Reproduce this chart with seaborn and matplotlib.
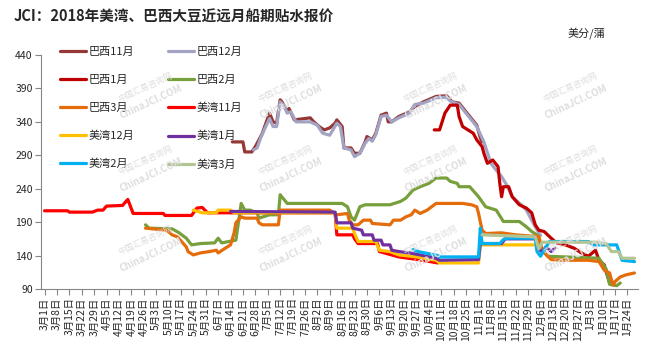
import pandas as pd
import matplotlib.pyplot as plt
import seaborn as sns

sns.set_style("ticks")
plt.rcParams['font.family'] = ['Noto Sans CJK SC', 'DejaVu Sans']
plt.rcParams['lines.solid_joinstyle'] = 'round'

# ---- data (month-day, cents/bushel) ----
bx11_d = ["06-15", "06-21", "06-22", "06-26", "06-28", "06-30", "07-02", "07-03", "07-06", "07-08",
          "07-10", "07-12", "07-13", "07-16", "07-17", "07-20", "07-23", "07-29", "07-31", "08-04",
          "08-06", "08-09", "08-12", "08-13", "08-16", "08-17", "08-21", "08-23", "08-26", "08-29",
          "08-30", "09-02", "09-04", "09-07", "09-10", "09-11", "09-13", "09-17", "09-23", "09-26",
          "10-01", "10-08", "10-14", "10-16", "10-17", "10-21", "10-24", "10-31", "11-02", "11-03"]
bx11_v = [310, 310, 295, 295, 303, 313, 323, 331, 353, 340,
          338, 373, 370, 355, 360, 343, 344, 346, 340, 331,
          328, 331, 338, 343, 333, 301, 301, 293, 293, 310,
          318, 313, 323, 350, 353, 340, 340, 348, 355, 363,
          370, 378, 379, 373, 370, 368, 358, 335, 316, 310]

bx12_d = ["06-27", "06-29", "07-01", "07-03", "07-06", "07-08", "07-10", "07-12", "07-14", "07-16",
          "07-18", "07-21", "07-29", "08-02", "08-05", "08-09", "08-13", "08-15", "08-17", "08-21",
          "08-23", "08-26", "08-29", "08-31", "09-02", "09-04", "09-07", "09-10", "09-13", "09-17",
          "09-23", "09-26", "10-01", "10-08", "10-14", "10-16", "10-21", "10-24", "10-31", "11-04",
          "11-08", "11-10", "11-14", "11-17", "11-20", "11-25", "11-28", "12-03", "12-06"]
bx12_v = [298, 301, 316, 328, 345, 333, 333, 370, 365, 353,
          355, 340, 340, 335, 323, 320, 338, 333, 301, 298,
          288, 293, 308, 315, 311, 321, 348, 350, 340, 346,
          353, 366, 368, 376, 377, 371, 366, 356, 333, 310,
          278, 271, 258, 245, 228, 216, 208, 183, 170]

bx1_d = ["10-07", "10-10", "10-13", "10-16", "10-20", "10-21", "10-23", "10-29", "10-31", "11-03",
         "11-04", "11-06", "11-09", "11-12", "11-13", "11-14", "11-15", "11-18", "11-20", "11-24",
         "11-28", "12-01", "12-03", "12-05", "12-08", "12-12", "12-15", "12-20", "12-25", "12-29",
         "01-02", "01-06", "01-08", "01-11", "01-12", "01-14"]
bx1_v = [328, 328, 353, 365, 365, 348, 333, 323, 313, 303,
         293, 278, 283, 273, 248, 228, 243, 243, 228, 216,
         211, 204, 186, 178, 176, 166, 159, 156, 151, 144,
         139, 148, 133, 126, 116, 99]

bx2_d = ["04-27", "04-29", "05-12", "05-16", "05-20", "05-23", "05-28", "06-05", "06-07", "06-09",
         "06-13", "06-17", "06-20", "06-22", "06-25", "06-29", "06-30", "07-06", "07-11", "07-12",
         "07-16", "08-16", "08-19", "08-21", "08-23", "08-26", "08-29", "09-12", "09-18", "09-21",
         "09-25", "09-29", "10-04", "10-08", "10-14", "10-16", "10-20", "10-21", "10-27", "11-01",
         "11-05", "11-11", "11-15", "11-24", "11-28", "12-01", "12-04", "12-05", "12-07", "12-10",
         "01-08", "01-12", "01-14", "01-18", "01-20"]
bx2_v = [186, 181, 180, 174, 166, 156, 158, 159, 166, 159,
         161, 163, 218, 208, 208, 204, 196, 201, 201, 231,
         218, 218, 213, 198, 193, 213, 216, 216, 221, 226,
         238, 243, 248, 256, 256, 251, 248, 243, 243, 228,
         213, 208, 191, 191, 183, 176, 171, 153, 148, 139,
         136, 120, 97, 95, 99]

bx3_d = ["04-27", "05-09", "05-12", "05-15", "05-20", "05-21", "05-24", "05-28", "06-02", "06-06",
         "06-07", "06-11", "06-14", "06-16", "06-17", "06-20", "06-22", "06-29", "06-30", "07-02",
         "07-11", "07-12", "08-09", "08-13", "08-19", "08-20", "08-22", "08-25", "08-28", "09-01",
         "09-02", "09-12", "09-14", "09-18", "09-21", "09-24", "09-26", "09-29", "10-03", "10-08",
         "10-23", "10-28", "10-31", "11-01", "11-03", "11-05", "11-14", "11-22", "12-01", "12-05",
         "12-07", "12-10", "12-12", "12-18", "01-02", "01-08", "01-11", "01-14", "01-15", "01-16",
         "01-17", "01-20", "01-23", "01-28"]
bx3_v = [181, 178, 171, 168, 153, 146, 141, 144, 146, 148,
         144, 151, 156, 174, 189, 198, 196, 196, 189, 186,
         186, 208, 208, 201, 203, 193, 186, 186, 193, 193,
         188, 186, 193, 193, 198, 201, 208, 203, 208, 218,
         218, 216, 213, 203, 178, 173, 174, 171, 169, 169,
         148, 139, 134, 133, 133, 131, 118, 114, 104, 96,
         101, 108, 111, 114]

us11_d = ["03-01", "03-14", "03-15", "03-28", "03-31", "04-03", "04-05", "04-14", "04-17", "04-20",
          "05-07", "05-08", "05-23", "05-26", "05-29", "06-01", "08-12", "08-13", "08-22", "08-23",
          "08-25", "09-05", "09-06", "09-17", "09-28", "10-09"]
us11_v = [207, 207, 205, 205, 208, 208, 214, 215, 224, 203,
          203, 200, 200, 211, 212, 204, 204, 171, 171, 165,
          158, 158, 146, 138, 134, 129]

us12_d = ["05-24", "05-29", "06-06", "06-07", "06-14", "06-16", "08-12", "08-13", "08-22", "08-23",
          "08-25", "09-04", "09-06", "09-12", "09-17", "09-27", "10-08", "10-10", "11-01", "11-02",
          "12-03"]
us12_v = [208, 204, 204, 208, 208, 204, 204, 181, 181, 173,
          161, 161, 148, 146, 141, 138, 133, 129, 129, 156,
          156]

us1_d = ["06-14", "08-12", "08-13", "08-21", "08-22", "08-27", "08-28", "09-02", "09-03", "09-07",
         "09-08", "09-12", "09-13", "09-17", "09-23", "09-29", "10-08", "10-10", "11-01", "11-02",
         "11-14", "11-16", "12-03", "12-05", "12-07", "12-09", "12-12", "12-14"]
us1_v = [206, 205, 189, 189, 181, 178, 171, 171, 163, 163,
         156, 156, 148, 146, 144, 141, 136, 133, 134, 158,
         158, 165, 165, 150, 145, 153, 146, 151]

us2_d = ["09-25", "09-28", "10-09", "10-10", "11-01", "11-02", "11-03", "11-13", "11-15", "11-17",
         "12-03", "12-04", "12-06", "12-08", "12-11", "01-02", "01-05", "01-18", "01-21", "01-28"]
us2_v = [149, 146, 140, 138, 138, 181, 158, 158, 164, 166,
         166, 146, 139, 148, 161, 161, 156, 156, 133, 131]

us3_d = ["11-03", "12-03", "12-05", "12-07", "01-06", "01-12", "01-15", "01-19", "01-21", "01-28"]
us3_v = [171, 168, 150, 160, 160, 158, 146, 146, 136, 136]

series = [
    ("巴西11月", bx11_d, bx11_v, "#953735"),
    ("巴西12月", bx12_d, bx12_v, "#a3a3c4"),
    ("巴西1月", bx1_d, bx1_v, "#c00000"),
    ("巴西2月", bx2_d, bx2_v, "#77a03c"),
    ("巴西3月", bx3_d, bx3_v, "#e46c0a"),
    ("美湾11月", us11_d, us11_v, "#ff0000"),
    ("美湾12月", us12_d, us12_v, "#ffc000"),
    ("美湾1月", us1_d, us1_v, "#7030a0"),
    ("美湾2月", us2_d, us2_v, "#00b0f0"),
    ("美湾3月", us3_d, us3_v, "#b3c495"),
]


def to_dates(days):
    out = []
    for s in days:
        m, d = map(int, s.split('-'))
        out.append(pd.Timestamp(2018 if m >= 3 else 2019, m, d))
    return out


fig, ax = plt.subplots(figsize=(6.54, 3.58), dpi=100)
fig.subplots_adjust(left=0.0627, right=0.9755, bottom=0.1927, top=0.8464)

# faint watermark
wm_pos = [(145, 95), (285, 95), (430, 95), (570, 95),
          (145, 168), (285, 168), (430, 168), (570, 168),
          (145, 248), (285, 248), (430, 248), (570, 248)]
for px, py in wm_pos:
    fx, fy = px / 654, 1 - py / 358
    fig.text(fx, fy + 0.02, "中国汇易咨询网", rotation=25, color="#dedede", fontsize=6,
             ha="center", va="center", zorder=0)
    fig.text(fx + 0.01, fy - 0.02, "ChinaJCI.COM", rotation=25, color="#dedede", fontsize=7,
             ha="center", va="center", zorder=0, fontweight="bold")

for name, d, v, c in series:
    sns.lineplot(x=to_dates(d), y=v, color=c, lw=2.3, label=name, ax=ax, estimator=None)

ax.set_ylim(90, 440)
ax.set_yticks(range(90, 441, 50))
ax.set_xlim(pd.Timestamp(2018, 2, 27), pd.Timestamp(2019, 1, 30))
xt = pd.date_range("2018-03-01", "2019-01-24", freq="7D")
ax.set_xticks(xt)
ax.set_xticklabels([f"{t.month}月{t.day}日" for t in xt], rotation=90, fontsize=7.5)
ax.tick_params(axis='y', labelsize=7.5, length=4, width=0.8, color="#868686", pad=2)
ax.tick_params(axis='x', length=4, width=0.8, color="#868686", pad=2)
for s in ["left", "bottom"]:
    ax.spines[s].set_color("#868686")
    ax.spines[s].set_linewidth(0.8)
sns.despine(ax=ax)
ax.set_xlabel("")
ax.set_ylabel("")
ax.patch.set_alpha(0)

h, l = ax.get_legend_handles_labels()
order = [0, 2, 4, 6, 8, 1, 3, 5, 7, 9]
ax.legend([h[i] for i in order], [l[i] for i in order], ncol=2, loc="upper left",
          bbox_to_anchor=(60 / 654, 1 - 47 / 358), bbox_transform=fig.transFigure,
          frameon=False, fontsize=8, handlelength=2.3, handletextpad=0.3,
          labelspacing=1.6, columnspacing=3.0, borderpad=0, borderaxespad=0)

fig.text(14 / 654, 1 - 17 / 358, "JCI：2018年美湾、巴西大豆近远月船期贴水报价",
         fontsize=10.5, fontweight="bold", ha="left", va="center")
fig.text(586 / 654, 1 - 33 / 358, "美分/蒲", fontsize=8, ha="center", va="center")

fig.savefig("out.png", dpi=100)
